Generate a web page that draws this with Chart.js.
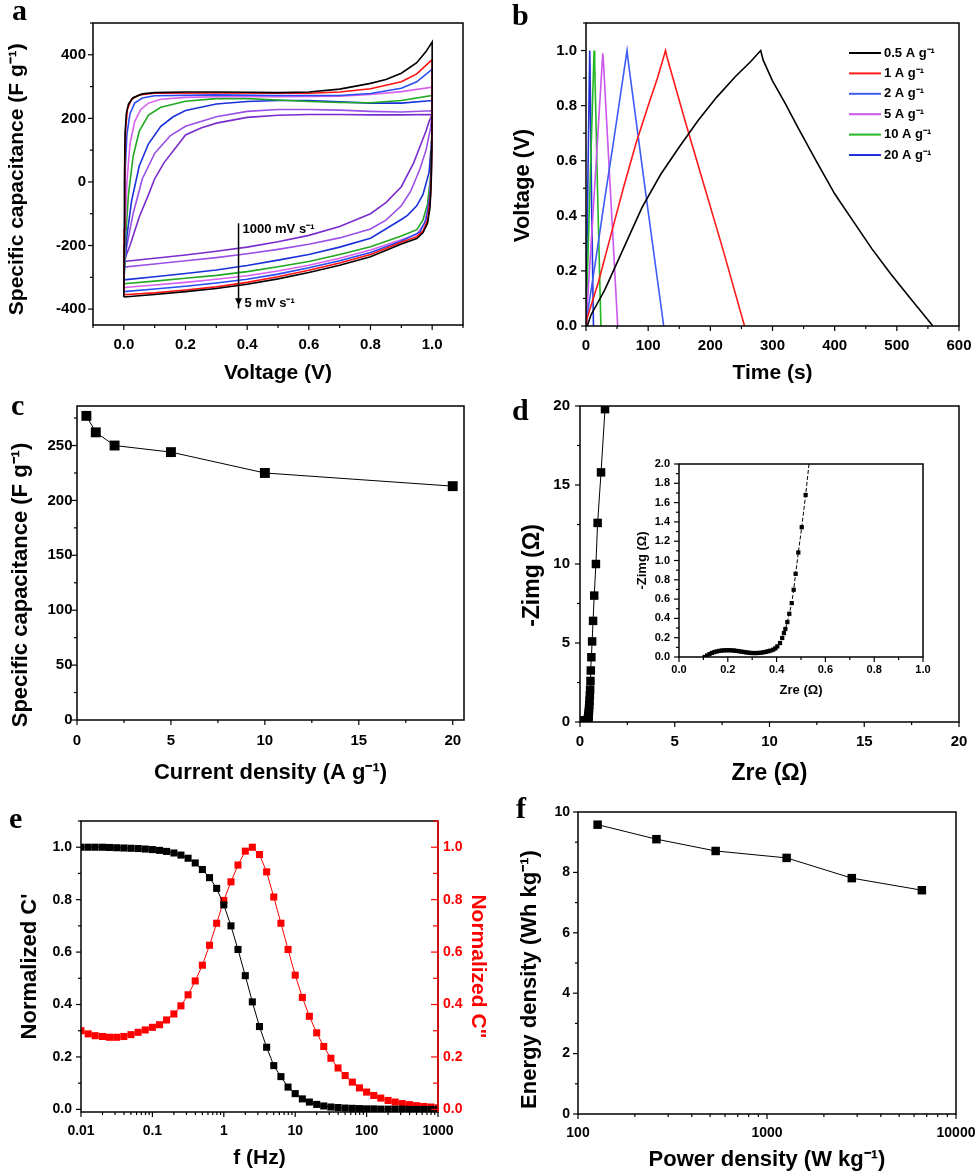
<!DOCTYPE html>
<html>
<head>
<meta charset="utf-8">
<script src="https://cdn.jsdelivr.net/npm/chart.js@4.4.1/dist/chart.umd.min.js"></script>
<style>
  body { margin: 0; background: #fff; width: 980px; height: 1176px; position: relative; overflow: hidden; }
  .p { position: absolute; }
  .lab { position: absolute; font: bold 30px 'Liberation Serif', 'Times New Roman', serif; line-height: 30px; }
</style>
</head>
<body>
<div class="p" style="left:0;top:0;width:490px;height:390px"><canvas id="ca"></canvas></div>
<div class="p" style="left:490px;top:0;width:500px;height:390px"><canvas id="cb"></canvas></div>
<div class="p" style="left:0;top:390px;width:490px;height:400px"><canvas id="cc"></canvas></div>
<div class="p" style="left:490px;top:385px;width:500px;height:405px"><canvas id="cd"></canvas></div>
<div class="p" style="left:625px;top:445px;width:314px;height:255px"><canvas id="cdi"></canvas></div>
<div class="p" style="left:0;top:780px;width:490px;height:396px"><canvas id="ce"></canvas></div>
<div class="p" style="left:490px;top:780px;width:510px;height:396px"><canvas id="cf"></canvas></div>

<div class="lab" style="left:12px;top:-5px">a</div>
<div class="lab" style="left:512px;top:0px">b</div>
<div class="lab" style="left:11px;top:390px">c</div>
<div class="lab" style="left:512px;top:395px">d</div>
<div class="lab" style="left:9px;top:803px">e</div>
<div class="lab" style="left:516px;top:793px">f</div>

<script>
// ---- a: CV loops, [voltage, capacitance] ----
const cv5 = [[0,-362],[0.001,-200],[0.002,0],[0.004,150],[0.008,215],[0.015,245],[0.03,265],[0.06,277],[0.1,281],[0.2,283],[0.3,283],[0.4,282],[0.5,281],[0.6,283],[0.7,292],[0.8,310],[0.85,322],[0.9,342],[0.95,375],[0.98,410],[1.0,440],
  [1.0,300],[0.999,100],[0.997,0],[0.993,-80],[0.985,-130],[0.97,-160],[0.95,-178],[0.9,-195],[0.8,-235],[0.7,-262],[0.6,-285],[0.5,-305],[0.4,-322],[0.3,-335],[0.2,-345],[0.1,-354],[0.05,-358],[0,-362]];
const cv10 = [[0,-355],[0.001,-150],[0.003,50],[0.006,170],[0.012,230],[0.025,260],[0.05,274],[0.1,279],[0.3,280],[0.5,279],[0.6,279],[0.7,283],[0.8,293],[0.9,315],[0.95,340],[1.0,385],
  [1.0,250],[0.998,50],[0.995,-40],[0.985,-120],[0.97,-155],[0.95,-172],[0.9,-190],[0.8,-228],[0.7,-255],[0.6,-278],[0.5,-298],[0.4,-316],[0.3,-330],[0.2,-340],[0.1,-349],[0,-355]];
const cv20 = [[0,-345],[0.002,-150],[0.005,50],[0.01,150],[0.02,215],[0.035,248],[0.06,264],[0.1,271],[0.3,274],[0.5,272],[0.7,272],[0.8,278],[0.9,295],[0.95,315],[1.0,355],
  [1.0,220],[0.997,40],[0.993,-40],[0.98,-120],[0.96,-158],[0.9,-186],[0.8,-222],[0.7,-248],[0.6,-270],[0.5,-290],[0.4,-306],[0.3,-318],[0.2,-328],[0.1,-337],[0,-345]];
const cv50 = [[0,-332],[0.004,-150],[0.01,0],[0.02,120],[0.035,190],[0.055,228],[0.08,248],[0.12,260],[0.2,266],[0.3,268],[0.5,268],[0.7,270],[0.8,275],[0.9,284],[1.0,298],
  [1.0,200],[0.996,20],[0.99,-70],[0.975,-130],[0.95,-165],[0.9,-182],[0.8,-214],[0.7,-240],[0.6,-262],[0.5,-280],[0.4,-295],[0.3,-306],[0.2,-316],[0.1,-324],[0,-332]];
const cv100 = [[0,-320],[0.006,-170],[0.015,-40],[0.03,80],[0.05,160],[0.08,210],[0.12,235],[0.2,254],[0.3,262],[0.4,262],[0.5,258],[0.6,253],[0.7,250],[0.8,249],[0.9,256],[1.0,272],
  [1.0,180],[0.995,20],[0.985,-70],[0.97,-120],[0.95,-150],[0.9,-170],[0.8,-204],[0.7,-228],[0.6,-250],[0.5,-267],[0.4,-282],[0.3,-294],[0.2,-303],[0.1,-312],[0,-320]];
const cv200 = [[0,-308],[0.01,-170],[0.025,-60],[0.05,50],[0.08,120],[0.12,175],[0.16,205],[0.2,225],[0.3,245],[0.4,253],[0.5,256],[0.6,256],[0.7,252],[0.8,248],[0.9,248],[1.0,256],
  [1.0,150],[0.99,30],[0.97,-40],[0.95,-75],[0.92,-105],[0.9,-118],[0.8,-177],[0.7,-205],[0.6,-228],[0.5,-246],[0.4,-263],[0.3,-277],[0.2,-288],[0.1,-298],[0,-308]];
const cv500 = [[0,-268],[0.01,-200],[0.03,-100],[0.06,10],[0.1,90],[0.15,145],[0.2,175],[0.3,205],[0.4,222],[0.5,228],[0.6,228],[0.7,226],[0.8,222],[0.9,220],[1.0,224],
  [0.995,170],[0.98,100],[0.96,40],[0.93,-30],[0.9,-75],[0.85,-120],[0.8,-148],[0.7,-176],[0.6,-196],[0.5,-212],[0.4,-226],[0.3,-238],[0.2,-248],[0.1,-258],[0,-268]];
const cv1000 = [[0,-250],[0.02,-200],[0.05,-110],[0.08,-40],[0.1,10],[0.13,60],[0.17,110],[0.2,148],[0.25,170],[0.3,185],[0.4,203],[0.5,210],[0.6,212],[0.7,212],[0.8,211],[0.9,211],[1.0,212],
  [0.99,190],[0.98,160],[0.96,110],[0.94,60],[0.9,-15],[0.85,-65],[0.8,-100],[0.7,-140],[0.6,-168],[0.5,-188],[0.4,-205],[0.3,-218],[0.2,-230],[0.1,-240],[0,-250]];
const cvLoops = [cv5, cv10, cv20, cv50, cv100, cv200, cv500, cv1000];
const cvColors = ['#000000', '#ff1010', '#2a4cf0', '#d860ee', '#22a822', '#1a30d8', '#9a50e6', '#7a2ccc'];
const aXTicks = [0, 0.2, 0.4, 0.6, 0.8, 1.0];
const aXLabels = ['0.0', '0.2', '0.4', '0.6', '0.8', '1.0'];
const aYTicks = [-400, -200, 0, 200, 400];
const aYLabels = ['-400', '-200', '0', '200', '400'];

// ---- b: charge/discharge, [time, voltage] ----
const gcd05 = [[2,0],[8,0.04],[30,0.13],[60,0.28],[90,0.43],[120,0.55],[150,0.65],[180,0.745],[210,0.83],[240,0.905],[265,0.96],[281,1.0],[285,0.965],[300,0.89],[320,0.81],[341,0.72],[370,0.6],[400,0.48],[430,0.38],[460,0.28],[490,0.19],[520,0.105],[558,0]];
const gcd1 = [[0,0],[2,0.03],[20,0.16],[40,0.33],[60,0.5],[80,0.66],[100,0.8],[115,0.9],[128,1.0],[131,0.97],[160,0.74],[190,0.51],[220,0.28],[255,0]];
const gcd2 = [[0,0],[2,0.04],[15,0.23],[30,0.46],[45,0.68],[66,1.0],[68,0.96],[95,0.5],[125,0]];
const gcd5 = [[0,0],[1,0.04],[10,0.36],[20,0.73],[27,0.99],[28,0.96],[40,0.46],[51,0]];
const gcd10 = [[0,0],[0.5,0.05],[7,0.55],[13,1.0],[14,0.95],[19,0.45],[24,0]];
const gcd20 = [[0,0],[0.3,0.05],[3,0.52],[6,1.0],[6.5,0.94],[9,0.45],[12,0]];
const gcdCurves = [gcd05, gcd1, gcd2, gcd5, gcd10, gcd20];
const gcdLabels = ['0.5 A g\u207B\u00B9', '1 A g\u207B\u00B9', '2 A g\u207B\u00B9', '5 A g\u207B\u00B9', '10 A g\u207B\u00B9', '20 A g\u207B\u00B9'];
const gcdColors = ['#000000', '#ff1a1a', '#3d5cf5', '#cc55ee', '#22b822', '#2233dd'];
const bXTicks = [0, 100, 200, 300, 400, 500, 600];
const bXLabels = ['0', '100', '200', '300', '400', '500', '600'];
const bYTicks = [0, 0.2, 0.4, 0.6, 0.8, 1.0];
const bYLabels = ['0.0', '0.2', '0.4', '0.6', '0.8', '1.0'];

// ---- c: rate capability ----
const currentDensity = [0.5, 1, 2, 5, 10, 20];
const specCap = [277, 262, 250, 244, 225, 213];
const cXTicks = [0, 5, 10, 15, 20];
const cXLabels = ['0', '5', '10', '15', '20'];
const cYTicks = [0, 50, 100, 150, 200, 250];
const cYLabels = ['0', '50', '100', '150', '200', '250'];

// ---- d: Nyquist ----
const zRe = [0.105,0.115,0.125,0.135,0.145,0.155,0.165,0.175,0.185,0.195,0.205,0.215,0.225,0.235,0.245,0.255,0.265,0.275,0.285,0.295,0.305,0.315,0.325,0.335,0.345,0.355,0.365,0.375,
  0.386,0.395,0.403,0.414,0.423,0.43,0.436,0.444,0.452,0.462,0.47,0.478,0.489,0.503,0.519,
  0.535,0.552,0.57,0.6,0.64,0.69,0.75,0.84,0.93,1.11,1.32];
const zIm = [0,0.015,0.03,0.042,0.051,0.058,0.063,0.067,0.069,0.07,0.07,0.069,0.067,0.064,0.06,0.056,0.052,0.048,0.045,0.042,0.041,0.041,0.042,0.044,0.048,0.053,0.059,0.066,
  0.076,0.09,0.11,0.145,0.197,0.248,0.29,0.362,0.448,0.559,0.697,0.862,1.083,1.345,1.679,
  2.05,2.6,3.26,4.1,5.1,6.4,8.0,10.0,12.6,15.8,19.8];
const dTicks = [0, 5, 10, 15, 20];
const dLabels = ['0', '5', '10', '15', '20'];
const insXTicks = [0, 0.2, 0.4, 0.6, 0.8, 1.0];
const insXLabels = ['0.0', '0.2', '0.4', '0.6', '0.8', '1.0'];
const insYTicks = [0, 0.2, 0.4, 0.6, 0.8, 1.0, 1.2, 1.4, 1.6, 1.8, 2.0];
const insYLabels = ['0.0', '0.2', '0.4', '0.6', '0.8', '1.0', '1.2', '1.4', '1.6', '1.8', '2.0'];

// ---- e: normalized capacitance vs frequency ----
const freq = [0.01,0.0126,0.0158,0.02,0.0251,0.0316,0.0398,0.0501,0.0631,0.0794,
  0.1,0.126,0.158,0.2,0.251,0.316,0.398,0.501,0.631,0.794,
  1,1.26,1.58,2,2.51,3.16,3.98,5.01,6.31,7.94,
  10,12.6,15.8,20,25.1,31.6,39.8,50.1,63.1,79.4,
  100,126,158,200,251,316,398,501,631,794,1000];
const cReal = [1.0,1.0,1.0,1.0,0.999,0.998,0.997,0.996,0.995,0.993,
  0.991,0.988,0.984,0.978,0.97,0.958,0.94,0.915,0.884,0.843,
  0.78,0.70,0.61,0.51,0.41,0.316,0.237,0.167,0.125,0.085,
  0.06,0.04,0.028,0.019,0.013,0.009,0.007,0.005,0.004,0.003,
  0.002,0.002,0.001,0.001,0.001,0.001,0,0,0,0,0];
const cImag = [0.30,0.288,0.281,0.278,0.275,0.275,0.278,0.285,0.294,0.303,
  0.313,0.323,0.341,0.364,0.395,0.437,0.49,0.55,0.626,0.71,
  0.797,0.868,0.932,0.985,1.0,0.972,0.906,0.81,0.71,0.61,
  0.512,0.427,0.355,0.292,0.24,0.195,0.158,0.129,0.104,0.082,
  0.066,0.053,0.043,0.034,0.028,0.022,0.018,0.014,0.011,0.009,0.006];
const eXTicks = [0.01, 0.1, 1, 10, 100, 1000];
const eXLabels = ['0.01', '0.1', '1', '10', '100', '1000'];
const eYTicks = [0, 0.2, 0.4, 0.6, 0.8, 1.0];
const eYLabels = ['0.0', '0.2', '0.4', '0.6', '0.8', '1.0'];

// ---- f: Ragone ----
const powerDensity = [127, 260, 535, 1270, 2810, 6600];
const energyDensity = [9.58, 9.1, 8.71, 8.48, 7.81, 7.41];
const fXTicks = [100, 1000, 10000];
const fXLabels = ['100', '1000', '10000'];
const fYTicks = [0, 2, 4, 6, 8, 10];
const fYLabels = ['0', '2', '4', '6', '8', '10'];

const FONT = "'Liberation Sans', Arial, Helvetica, sans-serif";
const SP = '\u2002'; // en space, nudges rotated titles along the axis
Chart.defaults.font.family = FONT;
Chart.defaults.color = '#000';
Chart.defaults.animation = false;
Chart.defaults.responsive = true;
Chart.defaults.maintainAspectRatio = false;
Chart.defaults.plugins.legend.display = false;
Chart.defaults.plugins.tooltip.enabled = false;

// axis builder: fixed box size so the plot area lands where the figure has it
function axis(o) {
  const col = o.color || '#000';
  return {
    type: o.type || 'linear',
    position: o.position,
    min: o.min,
    max: o.max,
    grid: { display: false, drawTicks: false },
    border: { display: false },
    afterBuildTicks: s => { s.ticks = o.ticks.map(v => ({ value: v })); },
    afterFit: s => { if (s.isHorizontal()) s.height = o.size; else s.width = o.size; },
    ticks: {
      autoSkip: false, maxRotation: 0, padding: o.pad, color: col,
      font: { size: o.fs || 15, weight: 'bold' },
      callback: (v, i) => o.labels[i]
    },
    title: {
      display: true, text: o.title, color: col,
      font: { size: o.ts || 22, weight: 'bold' },
      padding: o.tpad
    }
  };
}

function minorValues(s, vals) {
  const out = [];
  if (s.type === 'logarithmic') {
    vals.forEach(v => { for (let k = 2; k < 10; k++) if (v * k < s.max) out.push(v * k); });
  } else if (vals.length > 1) {
    const step = vals[1] - vals[0];
    for (let v = vals[0] - step / 2; v >= s.min - 1e-9; v -= step) out.push(v);
    for (let v = vals[0] + step / 2; v <= s.max + 1e-9; v += step) out.push(v);
  }
  return out;
}

// box frame + ticks (outward on left/bottom, inward on the right axis)
const frame = {
  id: 'frame',
  afterDraw(chart) {
    const { ctx, chartArea: a } = chart;
    ctx.save();
    ctx.lineWidth = 1.5;
    ctx.strokeStyle = '#000';
    ctx.strokeRect(a.left, a.top, a.right - a.left, a.bottom - a.top);
    Object.values(chart.scales).forEach(s => {
      ctx.strokeStyle = s.options.ticks.color || '#000';
      if (s.position === 'right') {
        ctx.beginPath(); ctx.moveTo(a.right, a.top); ctx.lineTo(a.right, a.bottom); ctx.stroke();
      }
      ctx.lineWidth = 1.2;
      const vals = s.ticks.map(t => t.value);
      const marks = vals.map(v => [v, 5]).concat(minorValues(s, vals).map(v => [v, 3]));
      marks.forEach(([v, len]) => {
        const p = s.getPixelForValue(v);
        ctx.beginPath();
        if (s.isHorizontal()) { ctx.moveTo(p, a.bottom); ctx.lineTo(p, a.bottom + len); }
        else if (s.position === 'right') { ctx.moveTo(a.right, p); ctx.lineTo(a.right - len - 2, p); }
        else { ctx.moveTo(a.left, p); ctx.lineTo(a.left - len, p); }
        ctx.stroke();
      });
      ctx.lineWidth = 1.5;
    });
    ctx.restore();
  }
};

// scan-rate arrow in panel a
const cvArrow = {
  id: 'cvArrow',
  afterDatasetsDraw(chart) {
    const { ctx, scales: { x, y } } = chart;
    const px = x.getPixelForValue(0.372);
    const top = y.getPixelForValue(-130);
    const bot = y.getPixelForValue(-398);
    ctx.save();
    ctx.strokeStyle = '#000';
    ctx.fillStyle = '#000';
    ctx.lineWidth = 1.5;
    ctx.beginPath(); ctx.moveTo(px, top); ctx.lineTo(px, bot); ctx.stroke();
    const ah = y.getPixelForValue(-385);
    ctx.beginPath(); ctx.moveTo(px - 3.5, ah - 6); ctx.lineTo(px + 3.5, ah - 6); ctx.lineTo(px, ah + 1); ctx.closePath(); ctx.fill();
    ctx.font = 'bold 13px ' + FONT;
    ctx.textBaseline = 'alphabetic';
    ctx.fillText('1000 mV s\u207B\u00B9', px + 4, y.getPixelForValue(-162));
    ctx.fillText('5 mV s\u207B\u00B9', px + 6, y.getPixelForValue(-393));
    ctx.restore();
  }
};

// legend inside panel b
const gcdLegend = {
  id: 'gcdLegend',
  afterDatasetsDraw(chart) {
    const { ctx, chartArea: a } = chart;
    ctx.save();
    ctx.font = 'bold 13px ' + FONT;
    ctx.textBaseline = 'middle';
    chart.data.datasets.forEach((d, i) => {
      const y = a.top + 30 + i * 20.4;
      const x = a.left + 263;
      ctx.strokeStyle = d.borderColor;
      ctx.lineWidth = 2;
      ctx.beginPath(); ctx.moveTo(x, y); ctx.lineTo(x + 32, y); ctx.stroke();
      ctx.fillStyle = '#000';
      ctx.fillText(d.label, x + 35, y);
    });
    ctx.restore();
  }
};

function lineSet(pts, color, label) {
  return {
    label: label,
    data: pts.map(p => ({ x: p[0], y: p[1] })),
    borderColor: color, borderWidth: 1.6,
    pointRadius: 0, showLine: true, fill: false
  };
}

function markSet(xs, ys, r, color, dash, axisId) {
  const ds = {
    data: xs.map((x, i) => ({ x: x, y: ys[i] })),
    borderColor: color, backgroundColor: color, borderWidth: 1,
    borderDash: dash || [],
    pointStyle: 'rect', pointRadius: r, pointBorderWidth: 0, pointBackgroundColor: color,
    showLine: true, fill: false
  };
  if (axisId) ds.yAxisID = axisId;
  return ds;
}

// a
new Chart(document.getElementById('ca'), {
  type: 'scatter',
  data: { datasets: cvLoops.map((l, i) => lineSet(l, cvColors[i])) },
  options: {
    layout: { padding: { left: 0, top: 23, right: 27, bottom: 0 } },
    scales: {
      x: axis({ min: -0.1, max: 1.1, ticks: aXTicks, labels: aXLabels, size: 65, pad: 11, title: 'Voltage (V)', ts: 21, tpad: { top: 0, bottom: 4 } }),
      y: axis({ min: -450, max: 500, ticks: aYTicks, labels: aYLabels, size: 93, pad: 7, title: 'Specific capacitance (F g\u207B\u00B9)' + SP, ts: 21, tpad: { top: 5, bottom: 0 } })
    }
  },
  plugins: [frame, cvArrow]
});

// b
new Chart(document.getElementById('cb'), {
  type: 'scatter',
  data: { datasets: gcdCurves.map((c, i) => lineSet(c, gcdColors[i], gcdLabels[i])) },
  options: {
    layout: { padding: { left: 0, top: 23, right: 31, bottom: 0 } },
    scales: {
      x: axis({ min: 0, max: 600, ticks: bXTicks, labels: bXLabels, size: 64, pad: 11, title: 'Time (s)', ts: 21, tpad: { top: 0, bottom: 4 } }),
      y: axis({ min: 0, max: 1.1, ticks: bYTicks, labels: bYLabels, size: 96, pad: 9, title: 'Voltage (V)' + SP + SP, ts: 22, tpad: { top: 20, bottom: 0 } })
    }
  },
  plugins: [frame, gcdLegend]
});

// c
new Chart(document.getElementById('cc'), {
  type: 'scatter',
  data: { datasets: [markSet(currentDensity, specCap, 7, '#000')] },
  options: {
    layout: { padding: { left: 0, top: 16, right: 26, bottom: 0 } },
    scales: {
      x: axis({ min: 0, max: 20.6, ticks: cXTicks, labels: cXLabels, size: 70, pad: 11.7, title: 'Current density (A g\u207B\u00B9)', ts: 22, tpad: { top: 0, bottom: 4 } }),
      y: axis({ min: 0, max: 286, ticks: cYTicks, labels: cYLabels, size: 77, pad: 4.5, title: 'Specific capacitance (F g\u207B\u00B9)' + SP + SP + SP + SP, ts: 22, tpad: { top: 8, bottom: 0 } })
    }
  },
  plugins: [frame]
});

// d
new Chart(document.getElementById('cd'), {
  type: 'scatter',
  data: { datasets: [markSet(zRe, zIm, 6, '#000')] },
  options: {
    layout: { padding: { left: 0, top: 21, right: 31, bottom: 0 } },
    scales: {
      x: axis({ min: 0, max: 20, ticks: dTicks, labels: dLabels, size: 68, pad: 11, title: 'Zre (\u03A9)', ts: 23, tpad: { top: 0, bottom: 3 } }),
      y: axis({ min: 0, max: 20, ticks: dTicks, labels: dLabels, size: 90, pad: 10, title: '-Zimg (\u03A9)' + SP + SP, ts: 23, tpad: { top: 29, bottom: 0 } })
    }
  },
  plugins: [frame]
});

// d inset
new Chart(document.getElementById('cdi'), {
  type: 'scatter',
  data: { datasets: [markSet(zRe, zIm, 3, '#000', [4, 2])] },
  options: {
    layout: { padding: { left: 0, top: 19, right: 16, bottom: 0 } },
    scales: {
      x: axis({ min: 0, max: 1, ticks: insXTicks, labels: insXLabels, size: 43, pad: 6, fs: 11, title: 'Zre (\u03A9)', ts: 13, tpad: { top: 0, bottom: 2 } }),
      y: axis({ min: 0, max: 2, ticks: insYTicks, labels: insYLabels, size: 54, pad: 9, fs: 11, title: '-Zimg (\u03A9)', ts: 13, tpad: { top: 10, bottom: 0 } })
    }
  },
  plugins: [frame]
});

// e
new Chart(document.getElementById('ce'), {
  type: 'scatter',
  data: {
    datasets: [
      markSet(freq, cReal, 5, '#000', null, 'y'),
      markSet(freq, cImag, 5, '#ff0000', null, 'y2')
    ]
  },
  options: {
    layout: { padding: { left: 0, top: 41, right: 0, bottom: 0 } },
    scales: {
      x: axis({ type: 'logarithmic', min: 0.01, max: 1000, ticks: eXTicks, labels: eXLabels, size: 64, pad: 11, fs: 14, title: 'f (Hz)', ts: 21, tpad: { top: 0, bottom: 5 } }),
      y: axis({ position: 'left', min: -0.01, max: 1.1, ticks: eYTicks, labels: eYLabels, size: 81, pad: 9, fs: 14, title: "Normalized C'", ts: 22, tpad: { top: 17, bottom: 0 } }),
      y2: axis({ position: 'right', min: -0.01, max: 1.1, ticks: eYTicks, labels: eYLabels, size: 52, pad: 5, fs: 14, color: '#ff0000', title: 'Normalized C"', ts: 21, tpad: { top: 0, bottom: 0 } })
    }
  },
  plugins: [frame]
});

// f
new Chart(document.getElementById('cf'), {
  type: 'scatter',
  data: { datasets: [markSet(powerDensity, energyDensity, 6, '#000')] },
  options: {
    layout: { padding: { left: 0, top: 32, right: 44, bottom: 0 } },
    scales: {
      x: axis({ type: 'logarithmic', min: 100, max: 10000, ticks: fXTicks, labels: fXLabels, size: 62, pad: 11, fs: 14, title: 'Power density (W kg\u207B\u00B9)', ts: 22, tpad: { top: 0, bottom: 3 } }),
      y: axis({ min: 0, max: 10, ticks: fYTicks, labels: fYLabels, size: 88, pad: 8, fs: 14, title: 'Energy density (Wh kg\u207B\u00B9)' + SP + SP + SP, ts: 22, tpad: { top: 27, bottom: 0 } })
    }
  },
  plugins: [frame]
});
</script>
</body>
</html>
